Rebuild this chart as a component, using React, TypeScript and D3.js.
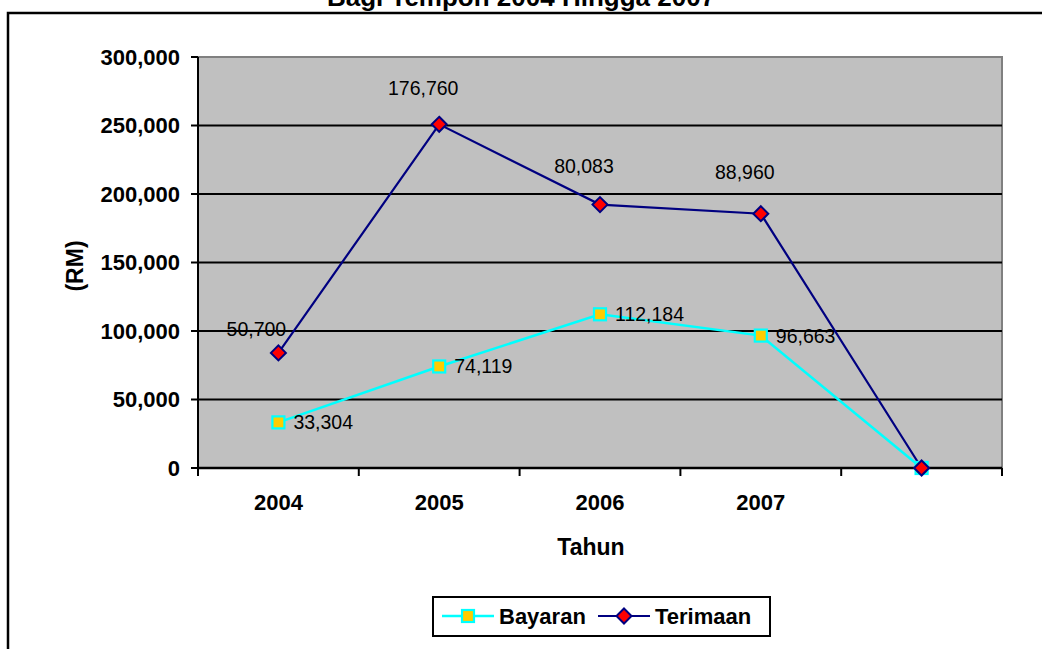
import React from "react";
import * as d3 from "d3";

const categories = ["2004", "2005", "2006", "2007", ""];
const bayaran = [33304, 74119, 112184, 96663, 0];
const terimaan = [50700, 176760, 80083, 88960, 0];
const yTicks = [0, 50000, 100000, 150000, 200000, 250000, 300000];
const seriesNames = ["Bayaran", "Terimaan"];

// label layout offsets for Terimaan labels (dx, dy relative to point)
const terLabelOffset = [
  [-22, -24],
  [-16, -36],
  [-16, -39],
  [-16, -42],
  [0, 0],
];

const W = 1042;
const H = 649;
const FONT = "'Liberation Sans', Arial, Helvetica, sans-serif";

export default function App() {
  const left = 198, right = 1002, top = 57, bottom = 468;
  const x = d3.scaleBand<number>().domain(d3.range(categories.length)).range([left, right]).padding(0);
  const y = d3.scaleLinear().domain([0, 300000]).range([bottom, top]);
  const cx = (i: number) => (x(i) as number) + x.bandwidth() / 2;

  const rows = categories.map((c, i) => ({ i, Bayaran: bayaran[i], Terimaan: terimaan[i] }));
  const stacked = d3.stack<any>().keys(seriesNames)(rows);
  const bayPts = stacked[0].map((d, i) => [cx(i), y(d[1])] as [number, number]);
  const terPts = stacked[1].map((d, i) => [cx(i), y(d[1])] as [number, number]);
  const line = d3.line();
  const fmt = d3.format(",");

  const bandEdges = d3.range(categories.length + 1).map((i) =>
    i < categories.length ? (x(i) as number) : right
  );

  const square = (px: number, py: number, s: number, key?: any) => (
    <rect key={key} x={px - s / 2} y={py - s / 2} width={s} height={s} fill="#FFCC00" stroke="#00FFFF" strokeWidth={2.2} />
  );
  const diamond = (px: number, py: number, r: number, key?: any) => (
    <path key={key} d={`M${px},${py - r}L${px + r},${py}L${px},${py + r}L${px - r},${py}Z`} fill="#FF0000" stroke="#000080" strokeWidth={2} />
  );

  return (
    <svg width={W} height={H} style={{ position: "absolute", left: 0, top: 0, background: "#fff" }} fontFamily={FONT}>
      <rect x={0} y={0} width={W} height={H} fill="#fff" />
      {/* title (cut off at the top, as in the reference) */}
      <text x={521} y={6} textAnchor="middle" fontWeight="bold" fontSize={26} fill="#000">
        Bagi Tempoh 2004 Hingga 2007
      </text>
      {/* chart frame */}
      <path d={`M8,${H + 5}V13H${W + 5}`} fill="none" stroke="#000" strokeWidth={2.5} />

      {/* plot area */}
      <rect x={left} y={top} width={right - left} height={bottom - top} fill="#C0C0C0" stroke="#808080" strokeWidth={2} />
      {/* gridlines */}
      {yTicks.slice(1, -1).map((t) => (
        <line key={t} x1={left} x2={right} y1={y(t)} y2={y(t)} stroke="#000" strokeWidth={2} />
      ))}
      {/* y axis */}
      <line x1={left} x2={left} y1={top} y2={bottom} stroke="#000" strokeWidth={2} />
      {yTicks.map((t) => (
        <g key={t}>
          <line x1={left - 7} x2={left} y1={y(t)} y2={y(t)} stroke="#000" strokeWidth={2} />
          <text x={180} y={y(t)} dy="0.36em" textAnchor="end" fontWeight="bold" fontSize={22} fill="#000">
            {fmt(t)}
          </text>
        </g>
      ))}
      {/* x axis */}
      <line x1={left} x2={right} y1={bottom} y2={bottom} stroke="#000" strokeWidth={2.5} />
      {bandEdges.map((e, i) => (
        <line key={i} x1={e} x2={e} y1={bottom} y2={bottom + 8} stroke="#000" strokeWidth={2} />
      ))}
      {categories.map((c, i) => (
        <text key={i} x={cx(i)} y={502} dy="0.36em" textAnchor="middle" fontWeight="bold" fontSize={22} fill="#000">
          {c}
        </text>
      ))}
      {/* axis titles */}
      <text x={591} y={547} dy="0.36em" textAnchor="middle" fontWeight="bold" fontSize={23} fill="#000">
        Tahun
      </text>
      <text transform={`translate(75,266) rotate(-90)`} dy="0.36em" textAnchor="middle" fontWeight="bold" fontSize={23} fill="#000">
        (RM)
      </text>

      {/* series lines */}
      <path d={line(bayPts) as string} fill="none" stroke="#00FFFF" strokeWidth={2.5} />
      <path d={line(terPts) as string} fill="none" stroke="#000080" strokeWidth={2.2} />
      {bayPts.map(([px, py], i) => square(px, py, 12, "b" + i))}
      {terPts.map(([px, py], i) => diamond(px, py, 7.5, "t" + i))}

      {/* data labels */}
      {bayPts.map(([px, py], i) =>
        bayaran[i] ? (
          <text key={"bl" + i} x={px + 15} y={py} dy="0.36em" fontSize={19.5} fill="#000">
            {fmt(bayaran[i])}
          </text>
        ) : null
      )}
      {terPts.map(([px, py], i) =>
        terimaan[i] ? (
          <text key={"tl" + i} x={px + terLabelOffset[i][0]} y={py + terLabelOffset[i][1]} dy="0.36em" textAnchor="middle" fontSize={19.5} fill="#000">
            {fmt(terimaan[i])}
          </text>
        ) : null
      )}

      {/* legend */}
      <rect x={433} y={597} width={337} height={39} fill="#fff" stroke="#000" strokeWidth={2} />
      <line x1={442} x2={494} y1={616} y2={616} stroke="#00FFFF" strokeWidth={2.5} />
      {square(468, 616, 12)}
      <text x={499} y={616} dy="0.36em" fontWeight="bold" fontSize={22} fill="#000">
        {seriesNames[0]}
      </text>
      <line x1={598} x2={650} y1={616} y2={616} stroke="#000080" strokeWidth={2.2} />
      {diamond(624, 616, 7.5)}
      <text x={655} y={616} dy="0.36em" fontWeight="bold" fontSize={22} fill="#000">
        {seriesNames[1]}
      </text>
    </svg>
  );
}
